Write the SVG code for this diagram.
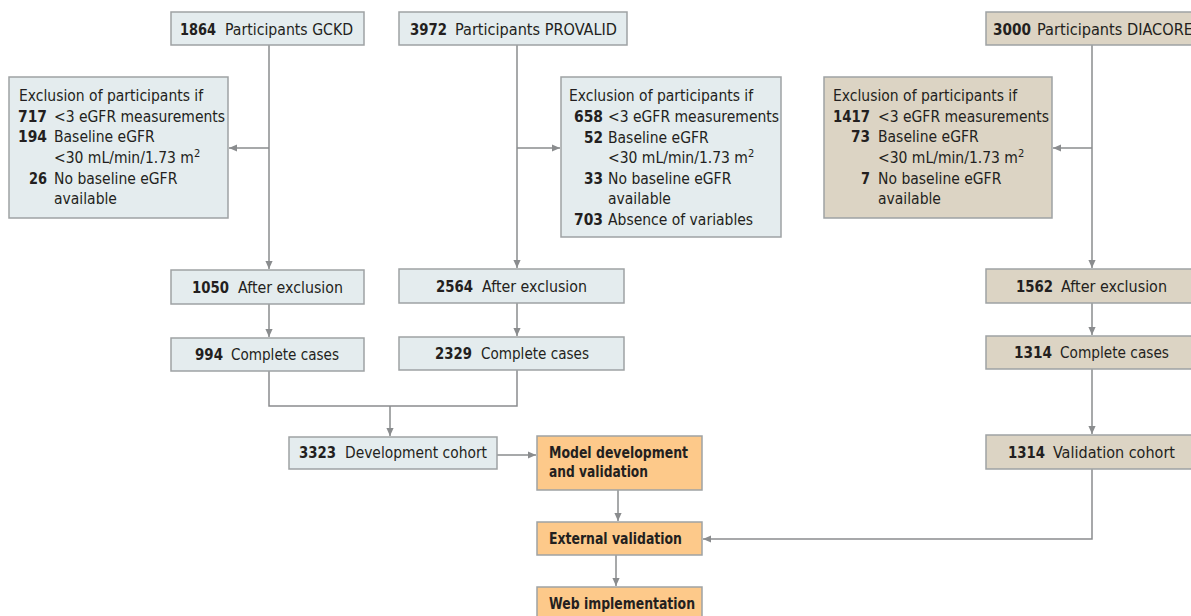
<svg xmlns="http://www.w3.org/2000/svg" width="1191" height="616" viewBox="0 0 1191 616">
<defs>
<marker id="ah" viewBox="0 0 10 10" refX="10" refY="5" markerWidth="8" markerHeight="8" markerUnits="userSpaceOnUse" orient="auto">
<path d="M0,0.5 L10,5 L0,9.5 Z" fill="#8a8c8e"/>
</marker>
<style>
text{font-family:"DejaVu Sans Condensed","Liberation Sans Narrow","Liberation Sans",sans-serif;font-size:15.5px;fill:#231f20}
.b{font-weight:bold}
.blue{fill:#e4ecee;stroke:#9ea2a4;stroke-width:1.5}
.tan{fill:#dcd4c4;stroke:#9ea2a4;stroke-width:1.5}
.org{fill:#fdc98a;stroke:#9ea2a4;stroke-width:1.5}
.c{fill:none;stroke:#8a8c8e;stroke-width:1.5}
.end{text-anchor:end}
</style>
</defs>
<rect width="1191" height="616" fill="#ffffff"/>
<g id="connectors">
<path class="c" d="M269,45 V269" marker-end="url(#ah)"/>
<path class="c" d="M269,148 H229" marker-end="url(#ah)"/>
<path class="c" d="M517,45 V268" marker-end="url(#ah)"/>
<path class="c" d="M517,148 H560" marker-end="url(#ah)"/>
<path class="c" d="M1092,45 V268" marker-end="url(#ah)"/>
<path class="c" d="M1092,148 H1053" marker-end="url(#ah)"/>
<path class="c" d="M269,304 V337" marker-end="url(#ah)"/>
<path class="c" d="M517,303 V336" marker-end="url(#ah)"/>
<path class="c" d="M1092,303 V335" marker-end="url(#ah)"/>
<path class="c" d="M269,371 V406 H517 V370"/>
<path class="c" d="M390,406 V436" marker-end="url(#ah)"/>
<path class="c" d="M497,455 H536" marker-end="url(#ah)"/>
<path class="c" d="M1092,369 V434" marker-end="url(#ah)"/>
<path class="c" d="M618,490 V521" marker-end="url(#ah)"/>
<path class="c" d="M616,555 V586" marker-end="url(#ah)"/>
<path class="c" d="M1092,469 V539 H703" marker-end="url(#ah)"/>
</g>
<g id="gckd">
<rect class="blue" x="171" y="12" width="193" height="33"/>
<text x="180" y="35" class="b" textLength="36" lengthAdjust="spacingAndGlyphs">1864</text>
<text x="225" y="35" textLength="128" lengthAdjust="spacingAndGlyphs">Participants GCKD</text>
</g>
<g id="provalid">
<rect class="blue" x="399" y="12" width="228" height="33"/>
<text x="410" y="35" class="b" textLength="37" lengthAdjust="spacingAndGlyphs">3972</text>
<text x="455" y="35" textLength="162" lengthAdjust="spacingAndGlyphs">Participants PROVALID</text>
</g>
<g id="diacore">
<rect class="tan" x="986" y="12" width="215" height="33"/>
<text x="993" y="35" class="b" textLength="38" lengthAdjust="spacingAndGlyphs">3000</text>
<text x="1037" y="35" textLength="156" lengthAdjust="spacingAndGlyphs">Participants DIACORE</text>
</g>
<g id="excl-gckd">
<rect class="blue" x="9" y="77" width="219" height="141"/>
<text x="19" y="101">Exclusion of participants if</text>
<text x="47" y="122" class="end b" textLength="29" lengthAdjust="spacingAndGlyphs">717</text><text x="54" y="122">&lt;3 eGFR measurements</text>
<text x="47" y="142" class="end b" textLength="29" lengthAdjust="spacingAndGlyphs">194</text><text x="54" y="142">Baseline eGFR</text>
<text x="54" y="163">&lt;30 mL/min/1.73 m<tspan dy="-6" font-size="11">2</tspan></text>
<text x="47" y="184" class="end b" textLength="18" lengthAdjust="spacingAndGlyphs">26</text><text x="54" y="184">No baseline eGFR</text>
<text x="54" y="204">available</text>
</g>
<g id="excl-provalid">
<rect class="blue" x="561" y="77" width="220" height="160"/>
<text x="569" y="101">Exclusion of participants if</text>
<text x="603" y="122" class="end b" textLength="29" lengthAdjust="spacingAndGlyphs">658</text><text x="608" y="122">&lt;3 eGFR measurements</text>
<text x="603" y="143" class="end b" textLength="19" lengthAdjust="spacingAndGlyphs">52</text><text x="608" y="143">Baseline eGFR</text>
<text x="608" y="163">&lt;30 mL/min/1.73 m<tspan dy="-6" font-size="11">2</tspan></text>
<text x="603" y="184" class="end b" textLength="19" lengthAdjust="spacingAndGlyphs">33</text><text x="608" y="184">No baseline eGFR</text>
<text x="608" y="204">available</text>
<text x="603" y="225" class="end b" textLength="29" lengthAdjust="spacingAndGlyphs">703</text><text x="608" y="225">Absence of variables</text>
</g>
<g id="excl-diacore">
<rect class="tan" x="824" y="77" width="228" height="141"/>
<text x="833" y="101">Exclusion of participants if</text>
<text x="870" y="122" class="end b" textLength="37" lengthAdjust="spacingAndGlyphs">1417</text><text x="878" y="122">&lt;3 eGFR measurements</text>
<text x="870" y="142" class="end b" textLength="19" lengthAdjust="spacingAndGlyphs">73</text><text x="878" y="142">Baseline eGFR</text>
<text x="878" y="163">&lt;30 mL/min/1.73 m<tspan dy="-6" font-size="11">2</tspan></text>
<text x="870" y="184" class="end b" textLength="9" lengthAdjust="spacingAndGlyphs">7</text><text x="878" y="184">No baseline eGFR</text>
<text x="878" y="204">available</text>
</g>
<g id="after-gckd">
<rect class="blue" x="171" y="270" width="193" height="34"/>
<text x="192" y="293" class="b" textLength="37" lengthAdjust="spacingAndGlyphs">1050</text>
<text x="238" y="293" textLength="105" lengthAdjust="spacingAndGlyphs">After exclusion</text>
</g>
<g id="after-provalid">
<rect class="blue" x="399" y="269" width="225" height="34"/>
<text x="436" y="292" class="b" textLength="37" lengthAdjust="spacingAndGlyphs">2564</text>
<text x="482" y="292" textLength="105" lengthAdjust="spacingAndGlyphs">After exclusion</text>
</g>
<g id="after-diacore">
<rect class="tan" x="986" y="269" width="215" height="34"/>
<text x="1016" y="292" class="b" textLength="37" lengthAdjust="spacingAndGlyphs">1562</text>
<text x="1061" y="292" textLength="106" lengthAdjust="spacingAndGlyphs">After exclusion</text>
</g>
<g id="complete-gckd">
<rect class="blue" x="171" y="338" width="193" height="33"/>
<text x="195" y="360" class="b" textLength="28" lengthAdjust="spacingAndGlyphs">994</text>
<text x="231" y="360" textLength="108" lengthAdjust="spacingAndGlyphs">Complete cases</text>
</g>
<g id="complete-provalid">
<rect class="blue" x="399" y="337" width="225" height="33"/>
<text x="435" y="359" class="b" textLength="37" lengthAdjust="spacingAndGlyphs">2329</text>
<text x="481" y="359" textLength="108" lengthAdjust="spacingAndGlyphs">Complete cases</text>
</g>
<g id="complete-diacore">
<rect class="tan" x="986" y="336" width="215" height="33"/>
<text x="1014" y="358" class="b" textLength="38" lengthAdjust="spacingAndGlyphs">1314</text>
<text x="1060" y="358" textLength="109" lengthAdjust="spacingAndGlyphs">Complete cases</text>
</g>
<g id="dev-cohort">
<rect class="blue" x="289" y="437" width="208" height="32"/>
<text x="299" y="458" class="b" textLength="37" lengthAdjust="spacingAndGlyphs">3323</text>
<text x="345" y="458" textLength="142" lengthAdjust="spacingAndGlyphs">Development cohort</text>
</g>
<g id="val-cohort">
<rect class="tan" x="986" y="435" width="215" height="34"/>
<text x="1008" y="458" class="b" textLength="37" lengthAdjust="spacingAndGlyphs">1314</text>
<text x="1053" y="458" textLength="122" lengthAdjust="spacingAndGlyphs">Validation cohort</text>
</g>
<g id="model-dev">
<rect class="org" x="537" y="436" width="165" height="54"/>
<text x="549" y="458" class="b" textLength="139" lengthAdjust="spacingAndGlyphs">Model development</text>
<text x="549" y="477" class="b" textLength="99" lengthAdjust="spacingAndGlyphs">and validation</text>
</g>
<g id="ext-val">
<rect class="org" x="537" y="522" width="165" height="33"/>
<text x="549" y="544" class="b" textLength="133" lengthAdjust="spacingAndGlyphs">External validation</text>
</g>
<g id="web">
<rect class="org" x="537" y="587" width="165" height="40"/>
<text x="549" y="609" class="b" textLength="146" lengthAdjust="spacingAndGlyphs">Web implementation</text>
</g>
</svg>
